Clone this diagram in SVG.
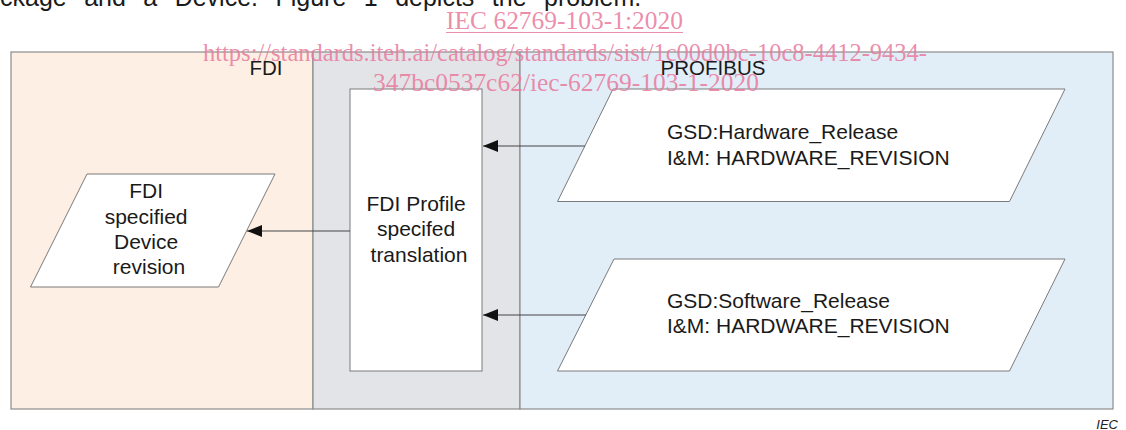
<svg xmlns="http://www.w3.org/2000/svg" width="1126" height="430" viewBox="0 0 1126 430">
  <defs>
    <marker id="arrow" viewBox="0 0 15 12" refX="15" refY="6" markerWidth="15" markerHeight="12" markerUnits="userSpaceOnUse" orient="auto">
      <path d="M0,0 L15,6 L0,12 Z" fill="#111"/>
    </marker>
  </defs>
  <style>
    .lbl { font-family: "Liberation Sans", Arial, sans-serif; font-size: 21px; fill: #1a1a1a; }
    .title { font-family: "Liberation Sans", Arial, sans-serif; font-size: 20.5px; fill: #1a1a1a; }
    .shape { fill: #ffffff; stroke: #7a7a7a; stroke-width: 1; }
    .region { stroke: #8c8c8c; stroke-width: 1.2; }
    .conn { stroke: #444; stroke-width: 1; fill: none; marker-end: url(#arrow); }
    .wm { font-family: "Liberation Serif", "Times New Roman", serif; font-size: 25px; fill: #e9799c; fill-opacity: 0.85; }
  </style>
  <rect width="1126" height="430" fill="#ffffff"/>
  <text x="0" y="5.5" class="lbl" style="font-size:25px" word-spacing="10.5">ckage and a Device. Figure 1 depicts the problem.</text>

  <g id="regions">
    <rect id="region-fdi" class="region" x="11" y="52" width="302" height="357" fill="#fdefe4"/>
    <rect id="region-translation" class="region" x="313" y="52" width="207" height="357" fill="#e3e4e8"/>
    <rect id="region-profibus" class="region" x="520" y="52" width="593" height="357" fill="#e1edf7"/>
    <text x="266" y="75" text-anchor="middle" class="title">FDI</text>
    <text x="713" y="75" text-anchor="middle" class="title">PROFIBUS</text>
  </g>

  <g id="node-fdi-device-revision">
    <polygon class="shape" points="87,174 275,174 218.5,287 30.5,287"/>
    <text text-anchor="middle" class="lbl">
      <tspan x="149" y="198">FDI</tspan>
      <tspan x="149" y="224">specified</tspan>
      <tspan x="149" y="249">Device</tspan>
      <tspan x="149" y="274">revision</tspan>
    </text>
  </g>

  <g id="node-translation">
    <rect class="shape" x="350" y="89" width="132" height="282"/>
    <text text-anchor="middle" class="lbl">
      <tspan x="419" y="211">FDI Profile</tspan>
      <tspan x="419" y="236">specifed</tspan>
      <tspan x="419" y="262">translation</tspan>
    </text>
  </g>

  <g id="node-hardware">
    <polygon class="shape" points="613,89 1065,89 1009.5,201.5 557.5,201.5"/>
    <text class="lbl">
      <tspan x="667" y="139">GSD:Hardware_Release</tspan>
      <tspan x="667" y="165">I&amp;M: HARDWARE_REVISION</tspan>
    </text>
  </g>

  <g id="node-software">
    <polygon class="shape" points="614,259 1065,259 1009.5,371 557.5,371"/>
    <text class="lbl">
      <tspan x="667" y="308">GSD:Software_Release</tspan>
      <tspan x="667" y="333">I&amp;M: HARDWARE_REVISION</tspan>
    </text>
  </g>

  <g id="connectors">
    <line class="conn" x1="585" y1="146" x2="483" y2="146"/>
    <line class="conn" x1="586" y1="315" x2="483" y2="315"/>
    <line class="conn" x1="350" y1="231" x2="247" y2="231"/>
  </g>

  <text x="1118" y="429" text-anchor="end" style="font-family:'Liberation Sans',Arial,sans-serif;font-size:13px;font-style:italic;fill:#222">IEC</text>

  <g id="watermark">
    <text x="446" y="29" class="wm" textLength="237" lengthAdjust="spacingAndGlyphs">IEC 62769-103-1:2020</text>
    <line x1="446" y1="32.5" x2="683" y2="32.5" stroke="#e9799c" stroke-opacity="0.85" stroke-width="1.2"/>
    <text x="203" y="61" class="wm" textLength="724" lengthAdjust="spacingAndGlyphs">https://standards.iteh.ai/catalog/standards/sist/1c00d0bc-10c8-4412-9434-</text>
    <text x="373" y="91" class="wm" textLength="386" lengthAdjust="spacingAndGlyphs">347bc0537c62/iec-62769-103-1-2020</text>
  </g>
</svg>
